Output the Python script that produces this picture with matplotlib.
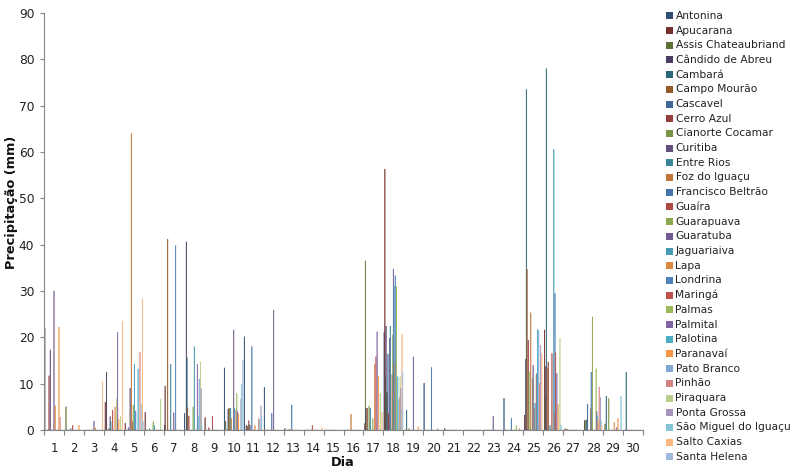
import numpy as np
import matplotlib
matplotlib.use("Agg")
import matplotlib.pyplot as plt
from matplotlib.patches import Rectangle

days = [str(d) for d in range(1, 31)]
stations = ["Antonina", "Apucarana", "Assis Chateaubriand", "Cândido de Abreu", "Cambará",
            "Campo Mourão", "Cascavel", "Cerro Azul", "Cianorte Cocamar", "Curitiba",
            "Entre Rios", "Foz do Iguaçu", "Francisco Beltrão", "Guaíra", "Guarapuava",
            "Guaratuba", "Jaguariaiva", "Lapa", "Londrina", "Maringá", "Palmas", "Palmital",
            "Palotina", "Paranavaí", "Pato Branco", "Pinhão", "Piraquara", "Ponta Grossa",
            "São Miguel do Iguaçu", "Salto Caxias", "Santa Helena"]

# daily precipitation (mm), days 1..30
antonina = [22.0,0,0,0,0,0,1.0,3.6,0,13.4,20.1,9.2,0,0,0,0,0,21.1,0,10.1,0,0,0,6.8,0,0,0,0,0,0]
apucarana = [0,0,0,6.0,1.5,3.8,9.5,0,2.7,0,0,0,0.3,0,0,0,1.4,56.3,0,0,0.3,0,0,0,3.2,21.6,0,2.0,0,0]
assis = [0,5.0,0,0,0,0,0,0,0,1.9,0,0,0,0,0,0,36.5,11.3,0,0,0,0,0,0,0,7.2,0.3,2.1,1.3,0]
candido = [0,0,0,12.5,0,0,0,40.6,0,0,1.0,0,0,0,0,0,4.7,22.4,0,0,0,0,0,0,15.3,13.7,0,0,0,0]
cambara = [0,0,0,0,0,0,0,15.6,0,0,0,0,0,0,0,0,0,8.0,4.3,0,0,0,0,0,73.5,78.0,0,2.2,7.3,12.5]
campo_mourao = [0,0,0,0,0,0,41.2,4.8,0,0,0.8,0,0,0,0,0,4.7,8.1,0,0,0,0,0,0,34.7,13.4,0.2,0,0,0]
cascavel = [0,0,0,0,0.5,0,0,0,0,4.5,0,0,0,0,0,0,0,16.4,0,0,0,0,0,0,0,0,0,5.6,0,0]
cerro_azul = [11.7,0,0,0.3,0,0,0,3.0,0.5,4.6,2.0,0,0,0,0,0,0,3.5,0,0,0,0,0,0,19.4,14.7,0,0,0,0]
cianorte = [0,0,0,0,0,0.3,0,0,0,4.7,1.2,0,0.2,0,0,0,5.2,0,0.3,0,0,0,0,0,12.6,0,0,0,6.8,0]
curitiba = [17.3,0,0,2.9,9.0,0,0,0,0,0,1.0,0,0,0,0,0,0,19.8,0,0,0,0,0,0,0,0,0,0,0,0]
entre_rios = [0,0.3,0,1.8,0,0,14.2,0,0,4.7,0,0,0,0,0,0,4.7,22.4,0,0,0,0,0,0,0,1.0,0,0,0,0]
foz = [0,0,0,0,64.0,0,0,0,0,2.5,0,0,0,0,0,3.4,0,0,0,0,0,0,0,0,25.3,0,0,4.6,0,0]
francisco_beltrao = [0,0,0,0,0,0,0,0,0,0,18.0,3.6,5.4,0,0,0,0,0,0,13.5,0,0,0,2.5,0,0,0,12.5,0,0]
guaira = [0,1.0,0,4.3,1.8,0,0,0,3.0,0,0,0,0,1.0,0,0,0,12.0,0,0,0,0,0,0,0,16.5,0,0,0,0]
guarapuava = [0,0,0,0,5.4,1.8,0,5.0,0,0,0,0,0,0,0,0,2.5,20.5,0,0,0,0,0,0,11.2,0,0,24.4,0,0]
guaratuba = [30.0,0,1.9,0,0,0,3.7,0,0,21.6,0,25.9,0,0,0,0,0,34.7,15.8,0,0,0,3.0,0,14.0,0,0,0,0,0]
jaguariaiva = [0,0,0,0,14.2,1.0,0,18.0,0,4.7,0,0,0,0,0,0,0,31.1,0,0,0,0,0,0,0,60.6,0,0,0,0]
lapa = [5.2,0,0.5,5.0,0,0,0,0,0,0,1.0,0,0,0,0,0,14.2,14.4,0,0,0,0,0,0,4.7,3.5,0,0,1.6,0]
londrina = [0,0,0,0,4.1,0,39.8,0,0,0,0,0,0,0,0,0,0,33.3,0,0,0,0,0,0,5.8,29.5,0,0,0,0]
maringa = [0,0,0,0,0,0,0,0,0,4.4,0,0,0,0,0,0,15.8,0,0,0,0,0,0,0,0,16.7,0,0,0,0]
palmas = [0,0,0,6.8,0,0,0,0,0,7.9,0,0,0,0,0,0,0,31.0,0,0,0,0,0,1.0,12.0,0,0,13.2,0,0]
palmital = [0,0,0,21.1,0,0,0,14.2,0,4.0,0,0,0,0,0,0,21.2,0,0,0,0,0,0,0,12.2,12.2,0,4.0,0.5,0]
palotina = [0,0,0,0,13.2,0,0,3.0,0,0,0,0,0,0,0,0,0,11.5,0,0.3,0,0,0,0,21.7,0,0,3.0,0,0]
paranavai = [22.2,1.0,0,2.3,0,0,0,0,0,3.5,2.5,0,0,0,0,0,11.6,0,0.7,0,0,0,0,0,0,5.5,0,2.0,2.5,0]
pato_branco = [0,0,0,0,0,0,0,11.0,0,0,2.3,0,0,0,0,0,0,6.5,0,0,0,0,0,0,21.5,0,0,0,0,0]
pinhao = [2.8,0,0,0,16.8,0,0,0,0,0,0,0,0,0,0,0,0,7.0,0,0,0,0,0,0.3,10.1,0,0,9.3,0,0]
piraquara = [0,0,0,3.0,0,6.7,0,14.7,0,0,0,0,0,0,0,0,7.9,11.5,0,0,0,0,0,0,0,19.8,0,0,0,0]
ponta_grossa = [0,0,0,0,0,0,0,8.9,0,6.7,5.2,0,0,0,0,0,0,9.0,0,0,0,0,0,0,18.3,0,0,7.0,0,0]
sao_miguel = [0,0,0,0,5.6,0,0,1.0,0,9.9,3.0,0,0,0,0,0,0,4.5,0,0,0,0,0,0,0,1.0,0,2.0,7.3,0]
salto_caxias = [0,0,10.4,23.5,28.3,0,0,0,0,0,0,0,0,0.5,0,0,3.9,20.6,0,0,0,0,0,0,16.5,0,0,1.0,0,0]
santa_helena = [0,0,0,0,1.8,0,0,0,0,15.1,0,0,0,0,0,0,0,12.6,0,0,0,0,0,0,0,0,0,0,0,0]

series = [antonina, apucarana, assis, candido, cambara, campo_mourao, cascavel, cerro_azul,
          cianorte, curitiba, entre_rios, foz, francisco_beltrao, guaira, guarapuava, guaratuba,
          jaguariaiva, lapa, londrina, maringa, palmas, palmital, palotina, paranavai,
          pato_branco, pinhao, piraquara, ponta_grossa, sao_miguel, salto_caxias, santa_helena]

accents = [(79, 129, 189), (192, 80, 77), (155, 187, 89), (128, 100, 162), (75, 172, 198), (247, 150, 70)]


def shade(rgb, g):
    r, gg, b = [c / 255 for c in rgb]
    if g <= 3:
        f = [0.6, 0.78, 0.9, 1.0][g]
        return (r * f, gg * f, b * f)
    t = [0, 0, 0, 0, 0.3, 0.45][g]
    return (r + (1 - r) * t, gg + (1 - gg) * t, b + (1 - b) * t)


colors = [shade(accents[i % 6], i // 6) for i in range(len(stations))]

plt.rcParams['font.family'] = ['DejaVu Sans']
W, H = 800, 471
fig = plt.figure(figsize=(W / 100, H / 100), dpi=100)
ax = fig.add_axes([44 / W, 1 - 430 / H, (643 - 44) / W, (430 - 13) / H])

x = np.arange(len(days))
w = 1 / 32.5
n = len(series)
for i, vals in enumerate(series):
    bars = ax.bar(x + (i - (n - 1) / 2) * w, vals, width=w, color=colors[i],
                  edgecolor=colors[i], linewidth=0.3)
    for b in bars:
        b.set_snap(False)
        b.set_antialiased(True)

ax.set_xlim(-0.5, len(days) - 0.5)
ax.set_ylim(0, 90)
ax.set_yticks(np.arange(0, 91, 10))
ax.set_xticks(np.arange(-0.5, len(days), 1))
ax.set_xticklabels([])
ax.set_xticks(x, minor=True)
ax.set_xticklabels(days, minor=True)
ax.tick_params(axis='x', which='major', length=3.5, color='#868686', width=0.8)
ax.tick_params(axis='x', which='minor', length=0, pad=9, labelsize=8.5, labelcolor='#222222')
ax.tick_params(axis='y', length=3, color='#868686', width=0.8, pad=4, labelsize=8.8, labelcolor='#222222')
for s in ['top', 'right']:
    ax.spines[s].set_visible(False)
for s in ['left', 'bottom']:
    ax.spines[s].set_color('#868686')
    ax.spines[s].set_linewidth(0.8)

fig.text(12 / W, 1 - 202 / H, 'Precipitação (mm)', rotation=90, ha='center', va='center',
         fontsize=9.3, fontweight='bold', color='#111111')
fig.text(343 / W, 1 - 462 / H, 'Dia', ha='center', va='center', fontsize=9.3,
         fontweight='bold', color='#111111')

# legend
for i, name in enumerate(stations):
    yc = 15.8 + i * 14.7
    fig.patches.append(Rectangle((666 / W, 1 - (yc + 3.5) / H), 7 / W, 7 / H,
                                 transform=fig.transFigure, facecolor=colors[i],
                                 edgecolor='none'))
    fig.text(675.5 / W, 1 - yc / H, name, ha='left', va='center', fontsize=7.7, color='#222222')

fig.savefig('out.png', dpi=100)
